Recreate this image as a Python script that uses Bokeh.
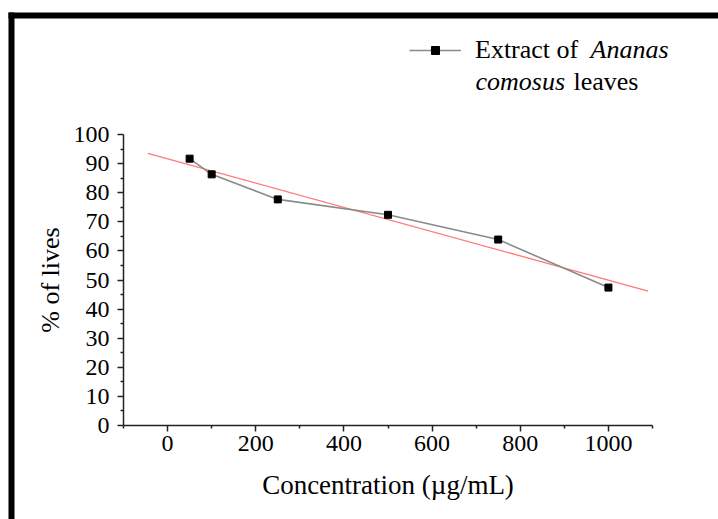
import numpy as np
from bokeh.plotting import figure
from bokeh.models import (Range1d, FixedTicker, Legend, LegendItem, Label,
                          BoxAnnotation, ColumnDataSource, LinearAxis)
from bokeh.embed import file_html
from bokeh.resources import INLINE

# ---- data ----
concentration = [50, 100, 250, 500, 750, 1000]          # µg/mL
percent_lives = [91.7, 86.3, 77.7, 72.4, 63.9, 47.4]    # % of lives
x_ticks = [0, 200, 400, 600, 800, 1000]
x_minor = [-100, 100, 300, 500, 700, 900, 1100]
y_ticks = list(range(0, 101, 10))
y_minor = list(range(5, 100, 10))
x_bounds = (-100, 1100)
y_bounds = (0, 100)
fit_span = [-45, 1090]   # extent of the linear-fit line

FONT = "Liberation Serif"
W, H = 718, 519

# the frame covers the whole canvas; axes are pinned inside it
p = figure(width=W, height=H, output_backend="svg", toolbar_location=None,
           title=None, x_axis_location=None, y_axis_location=None,
           x_range=Range1d(-379.0, 1249.7), y_range=Range1d(-32.30, 146.05),
           min_border=0)
p.grid.visible = False
p.outline_line_color = None
p.background_fill_color = "white"
p.border_fill_color = "white"

# linear fit (red)
slope, intercept = np.polyfit(concentration, percent_lives, 1)
fit_y = [slope * x + intercept for x in fit_span]
p.line(fit_span, fit_y, line_color="#ff7878", line_width=1.3)

src = ColumnDataSource(dict(x=concentration, y=percent_lives))
ln = p.line("x", "y", source=src, line_color="#8a8a8a", line_width=1.6)
sc = p.scatter("x", "y", source=src, marker="square", size=7,
               fill_color="black", line_color="black")

xaxis = LinearAxis(fixed_location=y_bounds[0], bounds=x_bounds,
                   ticker=FixedTicker(ticks=x_ticks, minor_ticks=x_minor),
                   axis_label="Concentration (µg/mL)")
yaxis = LinearAxis(fixed_location=x_bounds[0], bounds=y_bounds,
                   ticker=FixedTicker(ticks=y_ticks, minor_ticks=y_minor),
                   axis_label="% of lives")
p.add_layout(xaxis, "below")
p.add_layout(yaxis, "left")

for ax in (xaxis, yaxis):
    ax.axis_line_color = "#222222"
    ax.axis_line_width = 1.5
    ax.major_tick_line_color = "#222222"
    ax.major_tick_line_width = 1.5
    ax.minor_tick_line_color = "#222222"
    ax.minor_tick_line_width = 1.5
    ax.major_tick_in = 0
    ax.major_tick_out = 6
    ax.minor_tick_in = 0
    ax.minor_tick_out = 3
    ax.major_label_text_font = FONT
    ax.major_label_text_font_size = "24px"
    ax.major_label_text_color = "black"
    ax.axis_label_text_font = FONT
    ax.axis_label_text_font_style = "normal"
    ax.axis_label_text_color = "black"

xaxis.axis_label_text_font_size = "27px"
yaxis.axis_label_text_font_size = "26px"
yaxis.major_label_standoff = 8
yaxis.axis_label_standoff = 6
xaxis.major_label_standoff = 4
xaxis.axis_label_standoff = 16

# legend (glyph + first words), rest of the text with mixed italics
legend = Legend(items=[LegendItem(label="Extract of", renderers=[ln, sc])],
                location=(409, 454), border_line_color=None,
                background_fill_alpha=0, padding=0, margin=0,
                glyph_width=52, glyph_height=20, label_standoff=14,
                label_height=20, spacing=0,
                label_text_font=FONT, label_text_font_size="26px",
                label_text_color="black")
p.add_layout(legend)

lab_kw = dict(x_units="screen", y_units="screen", text_font=FONT,
              text_font_size="26px", text_color="black",
              text_baseline="alphabetic")
p.add_layout(Label(x=590, y=H - 49, text="Ananas", text_font_style="italic", **lab_kw))
p.add_layout(Label(x=475, y=H - 81, text="comosus", text_font_style="italic", **lab_kw))
p.add_layout(Label(x=573, y=H - 81, text="leaves", **lab_kw))

# black frame of the picture (top and left edges)
box_kw = dict(left_units="screen", right_units="screen", top_units="screen",
              bottom_units="screen", fill_color="black", fill_alpha=1,
              line_color=None)
p.add_layout(BoxAnnotation(left=8, right=W, top=H - 12, bottom=H - 18, **box_kw))
p.add_layout(BoxAnnotation(left=8, right=14, top=H - 12, bottom=0, **box_kw))

open("out.html", "w").write(file_html(p, INLINE))
